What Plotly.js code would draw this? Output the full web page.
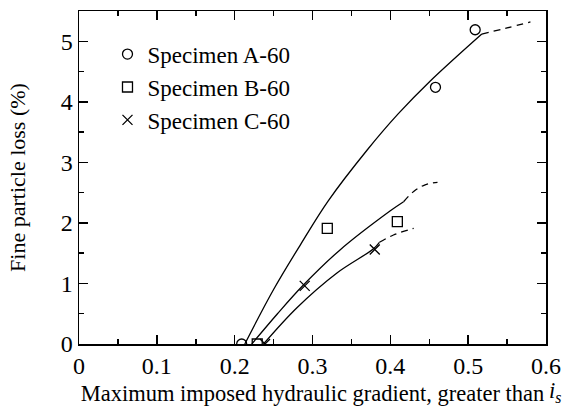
<!DOCTYPE html>
<html>
<head>
<meta charset="utf-8">
<script src="https://cdn.plot.ly/plotly-3.0.1.min.js"></script>
<style>html,body{margin:0;padding:0;background:#fff;}#chart{width:563px;height:406px;}#err{position:absolute;left:0;top:0;font:10px monospace;color:red;max-width:560px;}</style>
</head>
<body>
<div id="chart"></div>
<div id="err"></div>
<script>
function showErr(m) { document.getElementById('err').textContent += ' | ' + m; }
window.onerror = function (m) { showErr(m); };
const _ce = console.error;
console.error = function () { showErr(Array.prototype.join.call(arguments, ' ')); _ce.apply(console, arguments); };

// Measured points
const aX = [0.209, 0.458, 0.509];
const aY = [0.0, 4.24, 5.19];
const bX = [0.229, 0.319, 0.409];
const bY = [0.0, 1.91, 2.02];
const cX = [0.239, 0.290, 0.380];
const cY = [0.0, 0.96, 1.56];

// Fitted curves (solid part)
const aCurveX = [0.213, 0.25, 0.285, 0.32, 0.37, 0.41, 0.451, 0.5175];
const aCurveY = [0.0, 0.90, 1.65, 2.36, 3.20, 3.80, 4.34, 5.12];
const bCurveX = [0.222, 0.255, 0.288, 0.335, 0.40, 0.417];
const bCurveY = [0.0, 0.50, 0.97, 1.55, 2.20, 2.35];
const cCurveX = [0.237, 0.28, 0.331, 0.378, 0.386];
const cCurveY = [0.0, 0.60, 1.17, 1.57, 1.68];

// Extrapolated (dashed) parts
const aDashX = [0.5175, 0.55, 0.58];
const aDashY = [5.12, 5.22, 5.32];
const bDashX = [0.417, 0.43, 0.4447, 0.4606];
const bDashY = [2.35, 2.52, 2.63, 2.67];
const cDashX = [0.386, 0.404, 0.43];
const cDashY = [1.68, 1.80, 1.91];

const names = ['Specimen A-60', 'Specimen B-60', 'Specimen C-60'];
const xRange = [0, 0.6];
const yRange = [0, 5.5];

const FONT = 'Liberation Serif';
const lineStyle = {color: '#000', width: 1.3, shape: 'spline', smoothing: 1};
const dashStyle = {color: '#000', width: 1.3, shape: 'spline', smoothing: 1, dash: '7px,5px'};

function curve(x, y, ln) {
  return {x: x, y: y, mode: 'lines', line: ln, showlegend: false, hoverinfo: 'skip'};
}
function pts(x, y, sym, name) {
  return {x: x, y: y, mode: 'markers', name: name, showlegend: true,
    marker: {symbol: sym, size: 10, color: 'black', line: {color: 'black', width: 1.3}}};
}

const traces = [
  curve(aCurveX, aCurveY, lineStyle),
  curve(bCurveX, bCurveY, lineStyle),
  curve(cCurveX, cCurveY, lineStyle),
  curve(aDashX, aDashY, dashStyle),
  curve(bDashX, bDashY, dashStyle),
  curve(cDashX, cDashY, dashStyle),
  pts(aX, aY, 'circle-open', names[0]),
  pts(bX, bY, 'square-open', names[1]),
  pts(cX, cY, 'x-thin-open', names[2]),
  {x: [], y: [], xaxis: 'x2', yaxis: 'y2', mode: 'markers', showlegend: false, hoverinfo: 'skip'}
];

function axis(extra) {
  return Object.assign({
    showgrid: false, zeroline: false, showline: true, linecolor: 'black', linewidth: 1.5,
    mirror: true, ticks: 'inside', ticklen: 9, tickwidth: 1.5, tickcolor: 'black'
  }, extra);
}
function minor(d) {
  return {ticks: 'inside', ticklen: 5, tickwidth: 1.5, tickcolor: 'black', dtick: d, showgrid: false};
}

const layout = {
  width: 563, height: 406,
  margin: {l: 79, r: 17, t: 11, b: 62, pad: 0},
  font: {family: FONT, color: 'black', size: 20},
  xaxis: axis({
    range: xRange, dtick: 0.1, minor: minor(0.05),
    tickfont: {family: FONT, size: 24, color: 'black'},
    title: {text: 'Maximum imposed hydraulic gradient, greater than\u00A0\u00A0\u00A0\u00A0\u00A0\u00A0',
      font: {family: FONT, size: 22.5, color: 'black'}}
  }),
  yaxis: axis({
    range: yRange, dtick: 1, minor: minor(0.5),
    tickfont: {family: FONT, size: 24, color: 'black'},
    title: {text: 'Fine particle loss (%)', font: {family: FONT, size: 22, color: 'black'}}
  }),
  xaxis2: axis({
    range: xRange, dtick: 0.1, minor: minor(0.05), overlaying: 'x', side: 'top', anchor: 'y2',
    showticklabels: false
  }),
  yaxis2: axis({
    range: yRange, dtick: 1, minor: minor(0.5), overlaying: 'y', side: 'right', anchor: 'x2',
    showticklabels: false
  }),
  annotations: [{
    xref: 'paper', yref: 'paper', x: 1.019, y: -0.144, xanchor: 'center', yanchor: 'middle',
    text: '<i>i<sub>s</sub></i>', showarrow: false,
    font: {family: FONT, size: 22.5, color: 'black'}
  }],
  legend: {
    x: 0.061, y: 0.935, xanchor: 'left', yanchor: 'top',
    bgcolor: 'rgba(0,0,0,0)', borderwidth: 0,
    font: {family: FONT, size: 23, color: 'black'}
  },
  showlegend: true
};

try {
  Plotly.newPlot('chart', traces, layout, {displayModeBar: false, staticPlot: true})
    .catch(function (e) { showErr(e && e.message); });
} catch (e) { showErr(e.message); }
</script>
</body>
</html>
